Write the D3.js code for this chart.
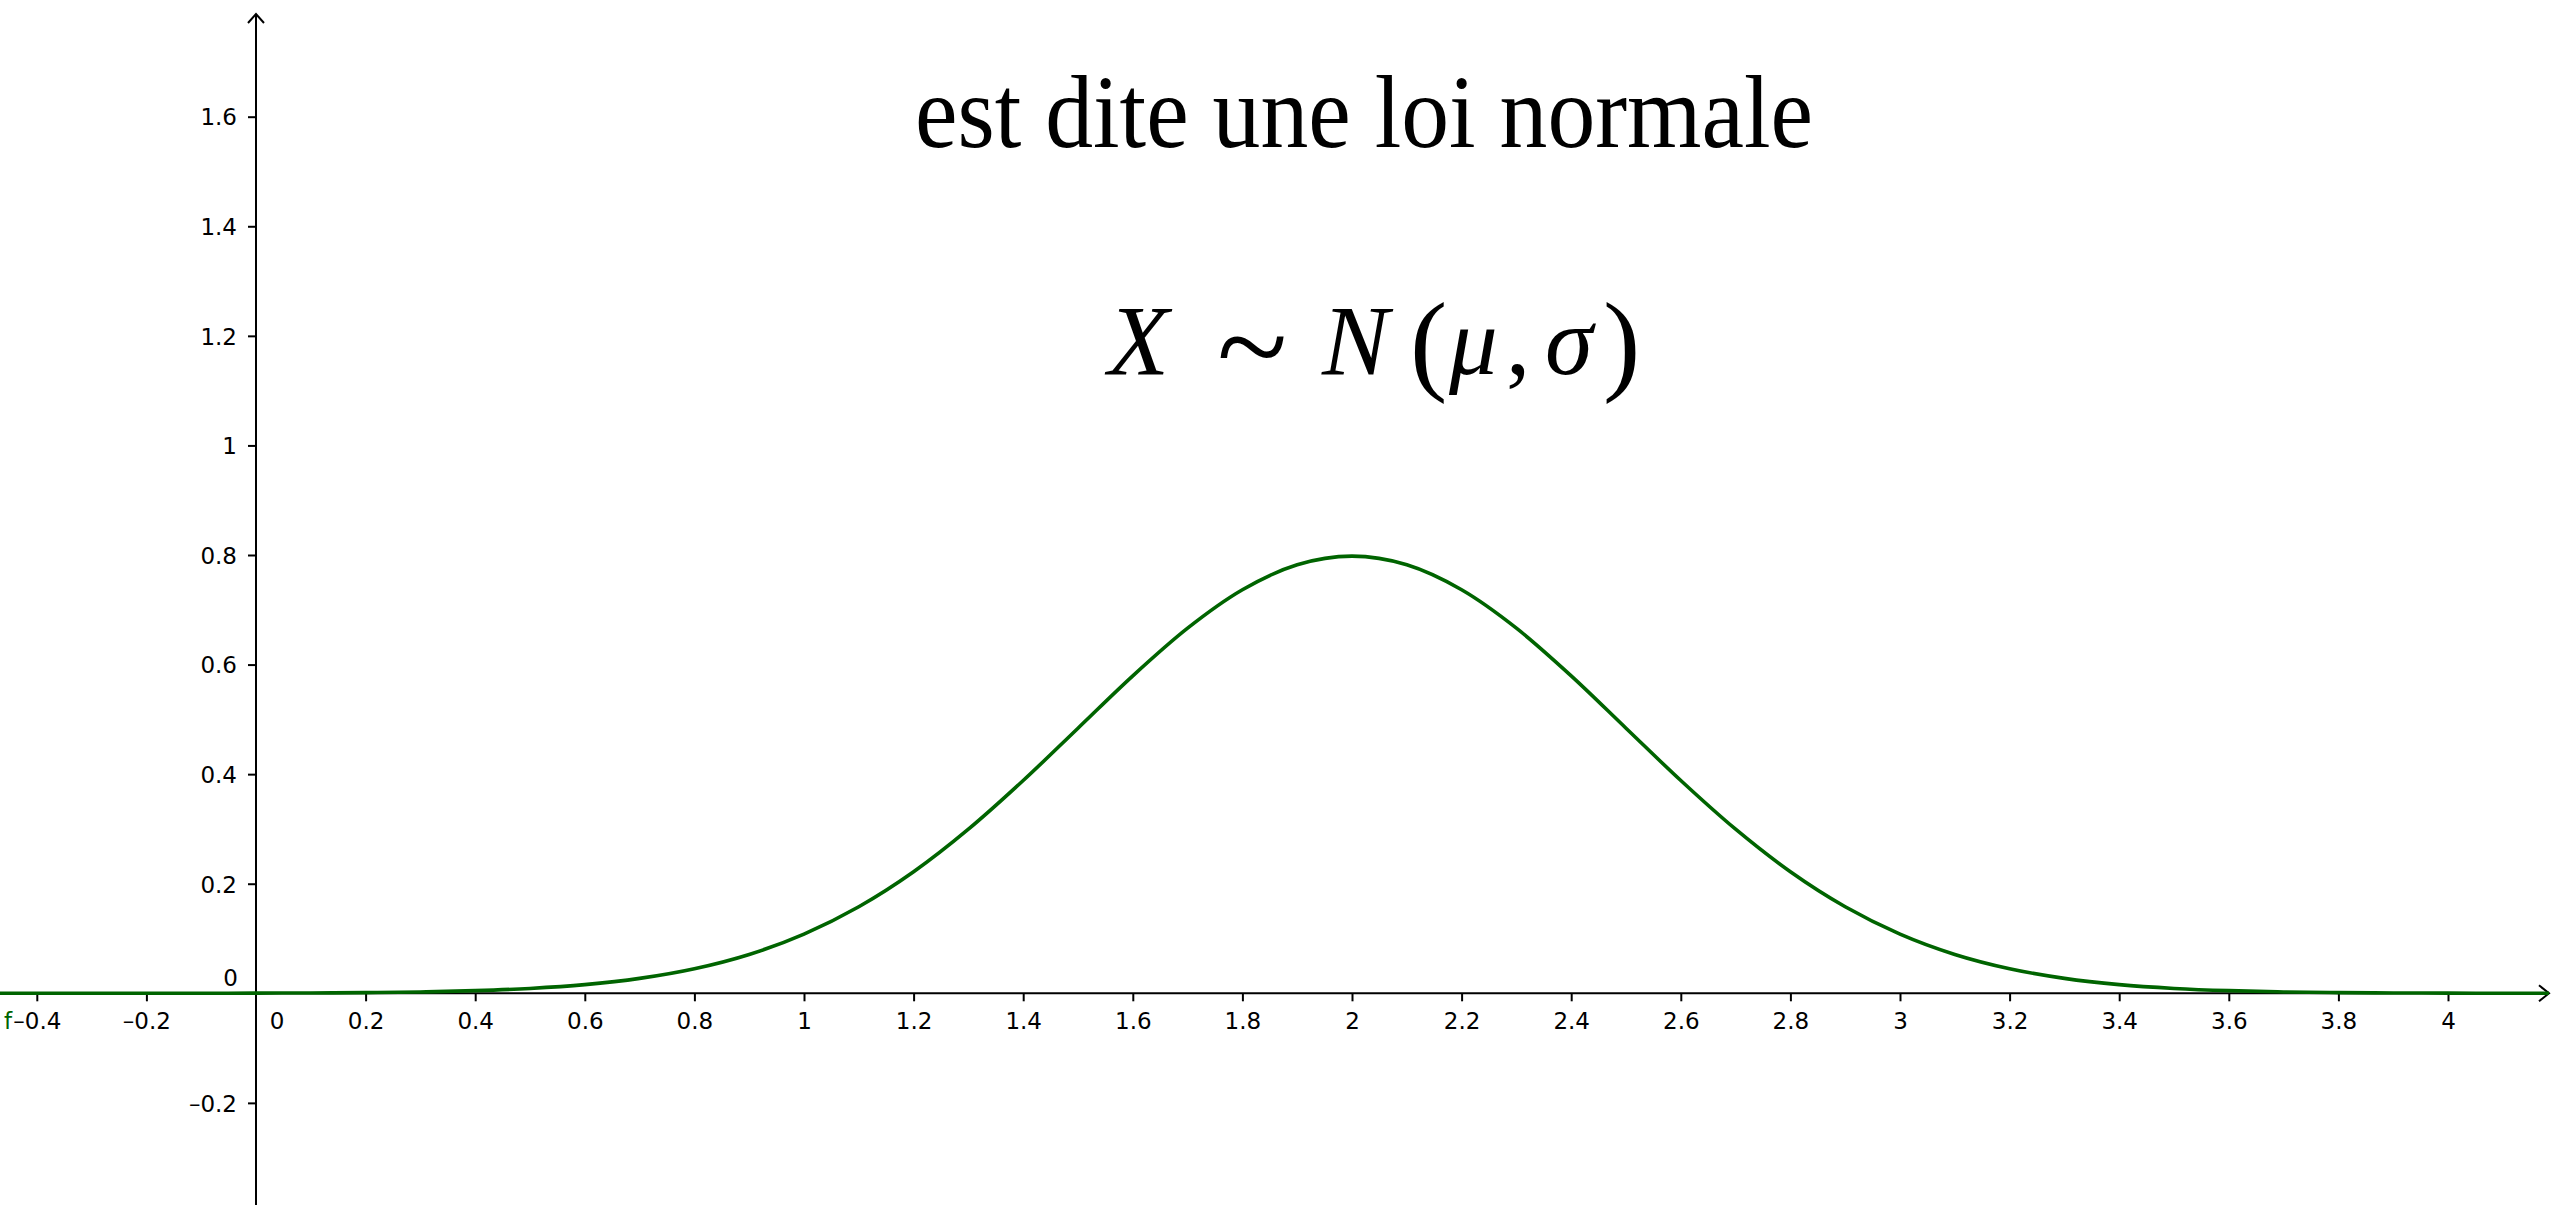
<!DOCTYPE html>
<html>
<head>
<meta charset="utf-8">
<script src="https://cdn.jsdelivr.net/npm/d3@7/dist/d3.min.js"></script>
<style>
  html, body { margin: 0; padding: 0; background: #ffffff; overflow: hidden; }
  svg { display: block; }
</style>
</head>
<body>
<svg id="chart" width="2568" height="1205"></svg>
<script>
// Density of f, sampled every 0.1 along x
const xSamples = [-0.5, -0.4, -0.3, -0.2, -0.1, 0, 0.1, 0.2, 0.3, 0.4, 0.5, 0.6, 0.7, 0.8, 0.9,
  1.0, 1.1, 1.2, 1.3, 1.4, 1.5, 1.6, 1.7, 1.8, 1.9, 2.0, 2.1, 2.2, 2.3, 2.4, 2.5, 2.6, 2.7, 2.8, 2.9,
  3.0, 3.1, 3.2, 3.3, 3.4, 3.5, 3.6, 3.7, 3.8, 3.9, 4.0, 4.1, 4.2];
const fValues = [0, 0, 0, 0, 0.0001, 0.0003, 0.0006, 0.0012, 0.0025, 0.0048, 0.0089, 0.0158, 0.0272, 0.0448, 0.0709,
  0.1080, 0.1579, 0.2218, 0.2995, 0.3884, 0.4839, 0.5794, 0.6664, 0.7365, 0.7821, 0.7979, 0.7821, 0.7365, 0.6664, 0.5794, 0.4839, 0.3884, 0.2995, 0.2218, 0.1579,
  0.1080, 0.0709, 0.0448, 0.0272, 0.0158, 0.0089, 0.0048, 0.0025, 0.0012, 0.0006, 0.0003, 0.0001, 0];

// Axis ticks
const xTicks = [-0.4, -0.2, 0.2, 0.4, 0.6, 0.8, 1, 1.2, 1.4, 1.6, 1.8, 2, 2.2, 2.4, 2.6, 2.8, 3, 3.2, 3.4, 3.6, 3.8, 4];
const yTicks = [-0.2, 0.2, 0.4, 0.6, 0.8, 1, 1.2, 1.4, 1.6];

const titleText = "est dite une loi normale";
const functionName = "f";

const W = 2568, H = 1205;
const svg = d3.select("#chart");

const x = d3.scaleLinear().domain([0, 4]).range([256, 2448]);
const y = d3.scaleLinear().domain([0, 1.6]).range([993.3, 116.7]);

const fmt = v => (v < 0 ? "\u2013" : "") + String(Math.abs(v));
const labelFont = "'DejaVu Sans', sans-serif";
const labelSize = 23;
const green = "rgb(0,100,0)";

const x0 = x(0), y0 = y(0);
const xEnd = 2549, yTop = 14;

// axis lines with open arrowheads
const axes = svg.append("g").attr("stroke", "#000").attr("stroke-width", 2).attr("fill", "none");
axes.append("line").attr("x1", 0).attr("x2", xEnd).attr("y1", y0).attr("y2", y0);
axes.append("path").attr("d", `M${xEnd - 10},${y0 - 8}L${xEnd},${y0}L${xEnd - 10},${y0 + 8}`);
axes.append("line").attr("x1", x0).attr("x2", x0).attr("y1", yTop).attr("y2", H);
axes.append("path").attr("d", `M${x0 - 8},${yTop + 9}L${x0},${yTop}L${x0 + 8},${yTop + 9}`);

// x axis ticks and labels
const gx = svg.append("g")
  .attr("transform", `translate(0,${y0})`)
  .call(d3.axisBottom(x).tickValues(xTicks).tickSize(8).tickFormat(fmt));
gx.select(".domain").remove();
gx.selectAll(".tick line").attr("stroke", "#000").attr("stroke-width", 2);
gx.selectAll(".tick text")
  .attr("y", 36).attr("dy", null)
  .attr("font-family", labelFont).attr("font-size", labelSize).attr("fill", "#000");

// y axis ticks and labels
const gy = svg.append("g")
  .attr("transform", `translate(${x0},0)`)
  .call(d3.axisLeft(y).tickValues(yTicks).tickSize(8).tickFormat(fmt));
gy.select(".domain").remove();
gy.selectAll(".tick line").attr("stroke", "#000").attr("stroke-width", 2);
gy.selectAll(".tick text")
  .attr("x", -19).attr("dy", "0.36em")
  .attr("font-family", labelFont).attr("font-size", labelSize).attr("fill", "#000");

// origin labels
svg.append("text").attr("x", x0 + 21).attr("y", y0 + 36)
  .attr("text-anchor", "middle")
  .attr("font-family", labelFont).attr("font-size", labelSize).text(fmt(0));
svg.append("text").attr("x", x0 - 18).attr("y", y0 - 7)
  .attr("text-anchor", "end")
  .attr("font-family", labelFont).attr("font-size", labelSize).text(fmt(0));

// the density curve
svg.append("clipPath").attr("id", "plotClip")
  .append("rect").attr("x", 0).attr("y", 0).attr("width", xEnd).attr("height", H);

const pts = xSamples.map((v, i) => [v, fValues[i]]);
const line = d3.line().x(d => x(d[0])).y(d => y(d[1])).curve(d3.curveMonotoneX);
svg.append("path")
  .datum(pts)
  .attr("clip-path", "url(#plotClip)")
  .attr("d", line)
  .attr("fill", "none")
  .attr("stroke", green)
  .attr("stroke-width", 3.6)
  .attr("stroke-linejoin", "round");

// function name
svg.append("text").attr("x", 4).attr("y", y0 + 36)
  .attr("font-family", labelFont).attr("font-size", labelSize)
  .attr("fill", green).text(functionName);

// heading
svg.append("text")
  .attr("x", 915).attr("y", 147)
  .attr("font-family", "'Liberation Serif', 'Times New Roman', serif")
  .attr("font-size", 104)
  .attr("textLength", 898).attr("lengthAdjust", "spacingAndGlyphs")
  .attr("fill", "#000")
  .text(titleText);

// formula X ~ N(mu, sigma), set glyph by glyph
const serif = "'Liberation Serif', 'Times New Roman', serif";
const formula = [
  { t: "X", x: 1108, y: 374, size: 100, italic: true },
  { t: "~", x: 1217, y: 390, size: 130, italic: false },
  { t: "N", x: 1322, y: 374, size: 100, italic: true },
  { t: "(", x: 1410, y: 380, size: 112, italic: false },
  { t: "\u03BC", x: 1449, y: 374, size: 97, italic: true },
  { t: ",", x: 1506, y: 374, size: 97, italic: false },
  { t: "\u03C3", x: 1545, y: 374, size: 97, italic: true },
  { t: ")", x: 1603, y: 380, size: 112, italic: false }
];
svg.append("g").selectAll("text")
  .data(formula)
  .join("text")
  .attr("x", d => d.x)
  .attr("y", d => d.y)
  .attr("font-family", serif)
  .attr("font-size", d => d.size)
  .attr("font-style", d => d.italic ? "italic" : "normal")
  .attr("fill", "#000")
  .text(d => d.t);
</script>
</body>
</html>
